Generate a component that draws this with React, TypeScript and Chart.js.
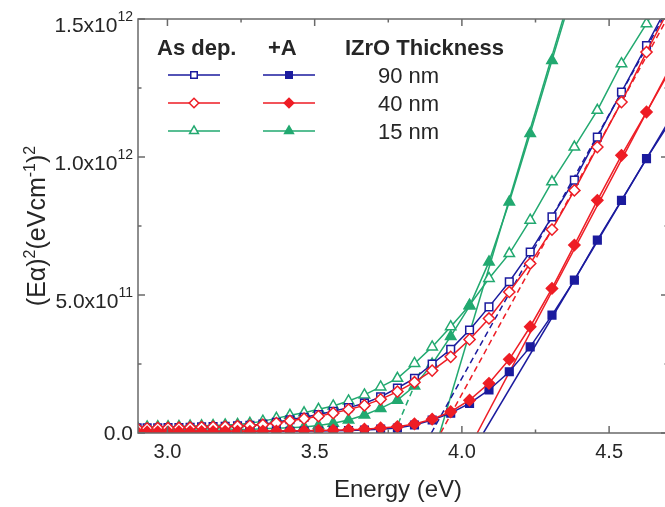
import { useEffect, useRef } from "react";
import { Chart, registerables } from "chart.js";

Chart.register(...registerables);

// Photon energy of every measured point (eV)
const energy = [
  2.897, 2.931, 2.967, 3.002, 3.039, 3.077, 3.116, 3.155, 3.196, 3.238,
  3.28, 3.324, 3.37, 3.416, 3.464, 3.513, 3.563, 3.615, 3.669, 3.724,
  3.781, 3.839, 3.899, 3.962, 4.026, 4.092, 4.161, 4.232, 4.306, 4.382,
  4.46, 4.542, 4.627, 4.715,
];

// (E·alpha)^2 in units of 10^12 (eV cm^-1)^2
const asDep90 = [
  0.019, 0.019, 0.019, 0.02, 0.02, 0.021, 0.022, 0.023, 0.024, 0.026,
  0.028, 0.032, 0.039, 0.048, 0.057, 0.067, 0.079, 0.092, 0.108, 0.131,
  0.163, 0.198, 0.25, 0.303, 0.373, 0.457, 0.548, 0.656, 0.783, 0.916,
  1.072, 1.235, 1.404, 1.58,
];
const asDep40 = [
  0.017, 0.017, 0.018, 0.018, 0.019, 0.02, 0.021, 0.022, 0.023, 0.025,
  0.027, 0.03, 0.036, 0.044, 0.052, 0.061, 0.072, 0.085, 0.1, 0.122,
  0.15, 0.184, 0.226, 0.276, 0.339, 0.415, 0.511, 0.614, 0.737, 0.879,
  1.036, 1.199, 1.38, 1.56,
];
const asDep15 = [
  0.022, 0.022, 0.023, 0.023, 0.024, 0.025, 0.026, 0.027, 0.029, 0.031,
  0.035, 0.043, 0.053, 0.064, 0.073, 0.086, 0.098, 0.116, 0.138, 0.167,
  0.198, 0.252, 0.312, 0.385, 0.463, 0.56, 0.65, 0.771, 0.91, 1.036,
  1.169, 1.338, 1.483, 1.64,
];
const annealed90 = [
  0.003, 0.003, 0.003, 0.003, 0.003, 0.004, 0.004, 0.004, 0.004, 0.005,
  0.005, 0.005, 0.006, 0.006, 0.007, 0.007, 0.008, 0.009, 0.011, 0.014,
  0.018, 0.029, 0.047, 0.072, 0.107, 0.156, 0.222, 0.312, 0.427, 0.554,
  0.699, 0.843, 0.994, 1.14,
];
const annealed40 = [
  0.004, 0.004, 0.004, 0.004, 0.005, 0.005, 0.005, 0.005, 0.006, 0.006,
  0.006, 0.007, 0.007, 0.008, 0.008, 0.009, 0.01, 0.012, 0.014, 0.018,
  0.023, 0.033, 0.05, 0.077, 0.119, 0.18, 0.267, 0.385, 0.524, 0.681,
  0.843, 1.006, 1.163, 1.33,
];
const annealed15 = [
  0.008, 0.008, 0.008, 0.009, 0.009, 0.009, 0.01, 0.01, 0.011, 0.012,
  0.013, 0.015, 0.017, 0.019, 0.022, 0.027, 0.035, 0.047, 0.065, 0.089,
  0.119, 0.17, 0.25, 0.35, 0.46, 0.62, 0.837, 1.085, 1.35, 1.62,
];

// Linear (Tauc) extrapolations for 90, 40 and 15 nm:
// optical gap (eV), slope (10^12 per eV) and the energy where each drawn line stops
const asDepGap = [3.896, 3.928, 3.77];
const asDepSlope = [1.91, 1.953, 2.5];
const asDepFitEnd = [4.75, 4.75, 3.86];
const annealedGap = [4.073, 4.052, 3.925];
const annealedSlope = [1.794, 2.02, 3.585];
const annealedFitEnd = [4.75, 4.75, 4.75];

const thicknessLabels = ["90 nm", "40 nm", "15 nm"];
const legendHeaders = ["As dep.", "+A", "IZrO Thickness"];
const seriesColors = ["#1b1b9e", "#ee1d25", "#22a970"];
const markerStyles = ["rect", "rectRot", "triangle"];
const markerRadius = [5.4, 5.6, 6];

const xMajorTicks = [3.0, 3.5, 4.0, 4.5];
const xTickLabels = ["3.0", "3.5", "4.0", "4.5"];
const xMinorTicks = [3.25, 3.75, 4.25];
const yMajorTicks = [0, 0.5, 1.0, 1.5];
const yTickMantissa = ["0.0", "5.0x10", "1.0x10", "1.5x10"];
const yTickExponent = ["", "11", "12", "12"];
const yMinorTicks = [0.25, 0.75, 1.25];

const FONT = '"Liberation Sans", Arial, Helvetica, sans-serif';
const TEXT_COLOR = "#262626";
const AXIS_COLOR = "#6a6a6a";
const CANVAS_W = 690;
const CANVAS_H = 507;

function drawMarker(
  ctx: CanvasRenderingContext2D,
  style: string,
  x: number,
  y: number,
  r: number,
  color: string,
  filled: boolean
) {
  ctx.beginPath();
  if (style === "rect") {
    const h = r * Math.SQRT1_2;
    ctx.rect(x - h, y - h, 2 * h, 2 * h);
  } else if (style === "rectRot") {
    ctx.moveTo(x, y - r);
    ctx.lineTo(x + r, y);
    ctx.lineTo(x, y + r);
    ctx.lineTo(x - r, y);
    ctx.closePath();
  } else {
    let a = 0;
    ctx.moveTo(x + Math.sin(a) * r, y - Math.cos(a) * r);
    a += (2 * Math.PI) / 3;
    ctx.lineTo(x + Math.sin(a) * r, y - Math.cos(a) * r);
    a += (2 * Math.PI) / 3;
    ctx.lineTo(x + Math.sin(a) * r, y - Math.cos(a) * r);
    ctx.closePath();
  }
  ctx.fillStyle = filled ? color : "#ffffff";
  ctx.fill();
  ctx.strokeStyle = color;
  ctx.lineWidth = 1.5;
  ctx.stroke();
}

// Draws the boxed frame with inward ticks, tick labels, axis titles and the legend table
const framePlugin = {
  id: "frameAndLegend",
  afterDraw(chart: any) {
    const ctx: CanvasRenderingContext2D = chart.ctx;
    const { left, right, top, bottom } = chart.chartArea;
    const xs = chart.scales.x;
    const ys = chart.scales.y;
    ctx.save();

    ctx.strokeStyle = AXIS_COLOR;
    ctx.lineWidth = 1.5;
    ctx.beginPath();
    ctx.rect(left, top, right - left, bottom - top);
    ctx.stroke();

    const major = 7;
    const minor = 3.5;
    ctx.beginPath();
    const xTick = (v: number, len: number) => {
      const px = xs.getPixelForValue(v);
      ctx.moveTo(px, bottom);
      ctx.lineTo(px, bottom - len);
      ctx.moveTo(px, top);
      ctx.lineTo(px, top + len);
    };
    const yTick = (v: number, len: number) => {
      const py = ys.getPixelForValue(v);
      ctx.moveTo(left, py);
      ctx.lineTo(left + len, py);
      ctx.moveTo(right, py);
      ctx.lineTo(right - len, py);
    };
    xMajorTicks.forEach((v) => xTick(v, major));
    xMinorTicks.forEach((v) => xTick(v, minor));
    yMajorTicks.forEach((v) => yTick(v, major));
    yMinorTicks.forEach((v) => yTick(v, minor));
    ctx.stroke();

    ctx.fillStyle = TEXT_COLOR;
    ctx.textBaseline = "alphabetic";

    // x tick labels
    ctx.font = `20px ${FONT}`;
    ctx.textAlign = "center";
    xMajorTicks.forEach((v, i) => {
      ctx.fillText(xTickLabels[i], xs.getPixelForValue(v), 458);
    });

    // y tick labels with powers of ten
    ctx.textAlign = "left";
    const labelRight = 133;
    yMajorTicks.forEach((v, i) => {
      const py = ys.getPixelForValue(v);
      const exp = yTickExponent[i];
      ctx.font = `14px ${FONT}`;
      const ew = exp ? ctx.measureText(exp).width : 0;
      ctx.font = `21px ${FONT}`;
      const mw = ctx.measureText(yTickMantissa[i]).width;
      if (exp) {
        ctx.fillText(yTickMantissa[i], labelRight - ew - mw, py + 13);
        ctx.font = `14px ${FONT}`;
        ctx.fillText(exp, labelRight - ew, py + 2);
      } else {
        ctx.fillText(yTickMantissa[i], labelRight - mw, py + 7);
      }
    });

    // x axis title
    ctx.font = `24px ${FONT}`;
    ctx.textAlign = "center";
    ctx.fillText("Energy (eV)", 398, 497);

    // y axis title, rotated, with superscripts
    const parts: [string, boolean][] = [
      ["(E\u03b1)", false],
      ["2", true],
      ["(eVcm", false],
      ["-1", true],
      [")", false],
      ["2", true],
    ];
    const big = `25px ${FONT}`;
    const small = `16px ${FONT}`;
    let total = 0;
    parts.forEach(([t, sup]) => {
      ctx.font = sup ? small : big;
      total += ctx.measureText(t).width;
    });
    ctx.translate(45, (top + bottom) / 2);
    ctx.rotate(-Math.PI / 2);
    ctx.textAlign = "left";
    let cx = -total / 2;
    parts.forEach(([t, sup]) => {
      ctx.font = sup ? small : big;
      ctx.fillText(t, cx, sup ? -10 : 0);
      cx += ctx.measureText(t).width;
    });
    ctx.setTransform(1, 0, 0, 1, 0, 0);

    // legend table
    ctx.font = `bold 22px ${FONT}`;
    ctx.textAlign = "left";
    ctx.fillText(legendHeaders[0], 157, 55);
    ctx.fillText(legendHeaders[1], 268, 55);
    ctx.fillText(legendHeaders[2], 345, 55);
    const rowY = [75, 103, 131];
    ctx.font = `22px ${FONT}`;
    thicknessLabels.forEach((label, i) => {
      const y = rowY[i];
      const color = seriesColors[i];
      ctx.strokeStyle = color;
      ctx.lineWidth = 1.5;
      ctx.beginPath();
      ctx.moveTo(168, y);
      ctx.lineTo(220, y);
      ctx.moveTo(263, y);
      ctx.lineTo(315, y);
      ctx.stroke();
      drawMarker(ctx, markerStyles[i], 194, y, markerRadius[i] * 0.85, color, false);
      drawMarker(ctx, markerStyles[i], 289, y, markerRadius[i] * 0.85, color, true);
      ctx.fillStyle = TEXT_COLOR;
      ctx.fillText(label, 378, y + 8);
    });

    ctx.restore();
  },
};

function points(values: number[]) {
  return values.map((v, i) => ({ x: energy[i], y: v }));
}

function fitLine(gap: number, slope: number, end: number) {
  return [
    { x: gap, y: 0 },
    { x: end, y: slope * (end - gap) },
  ];
}

export default function App() {
  const canvasRef = useRef<HTMLCanvasElement | null>(null);

  useEffect(() => {
    const canvas = canvasRef.current;
    if (!canvas) return;

    const asDep = [asDep90, asDep40, asDep15];
    const annealed = [annealed90, annealed40, annealed15];
    const drawOrder = [1, 0, 2];

    const datasets: any[] = [];
    drawOrder.forEach((i) => {
      datasets.push({
        label: `+A ${thicknessLabels[i]}`,
        data: points(annealed[i]),
        showLine: true,
        borderColor: seriesColors[i],
        backgroundColor: seriesColors[i],
        borderWidth: 1.5,
        pointStyle: markerStyles[i],
        pointRadius: markerRadius[i],
        pointBorderWidth: 1.5,
        pointBackgroundColor: seriesColors[i],
        pointBorderColor: seriesColors[i],
      });
      datasets.push({
        label: `As dep. ${thicknessLabels[i]}`,
        data: points(asDep[i]),
        showLine: true,
        borderColor: seriesColors[i],
        backgroundColor: "#ffffff",
        borderWidth: 1.5,
        pointStyle: markerStyles[i],
        pointRadius: markerRadius[i],
        pointBorderWidth: 1.5,
        pointBackgroundColor: "#ffffff",
        pointBorderColor: seriesColors[i],
      });
    });
    drawOrder.forEach((i) => {
      datasets.push({
        label: `+A fit ${thicknessLabels[i]}`,
        data: fitLine(annealedGap[i], annealedSlope[i], annealedFitEnd[i]),
        showLine: true,
        borderColor: seriesColors[i],
        borderWidth: 1.5,
        pointRadius: 0,
      });
      datasets.push({
        label: `As dep. fit ${thicknessLabels[i]}`,
        data: fitLine(asDepGap[i], asDepSlope[i], asDepFitEnd[i]),
        showLine: true,
        borderColor: seriesColors[i],
        borderWidth: 1.5,
        borderDash: [6, 4],
        pointRadius: 0,
      });
    });

    const chart = new Chart(canvas, {
      type: "scatter",
      data: { datasets },
      options: {
        responsive: false,
        maintainAspectRatio: false,
        devicePixelRatio: 1,
        animation: false,
        events: [],
        layout: { padding: { left: 138, top: 19, right: CANVAS_W - 668, bottom: CANVAS_H - 433 } },
        scales: {
          x: { type: "linear", min: 2.9, max: 4.7, display: false },
          y: { type: "linear", min: 0, max: 1.5, display: false },
        },
        plugins: {
          legend: { display: false },
          tooltip: { enabled: false },
        },
      },
      plugins: [framePlugin],
    });

    return () => chart.destroy();
  }, []);

  return (
    <div
      style={{
        position: "fixed",
        left: 0,
        top: 0,
        width: 665,
        height: 507,
        overflow: "hidden",
        background: "#ffffff",
      }}
    >
      <canvas
        ref={canvasRef}
        width={CANVAS_W}
        height={CANVAS_H}
        style={{ display: "block", width: CANVAS_W, height: CANVAS_H }}
      />
    </div>
  );
}
